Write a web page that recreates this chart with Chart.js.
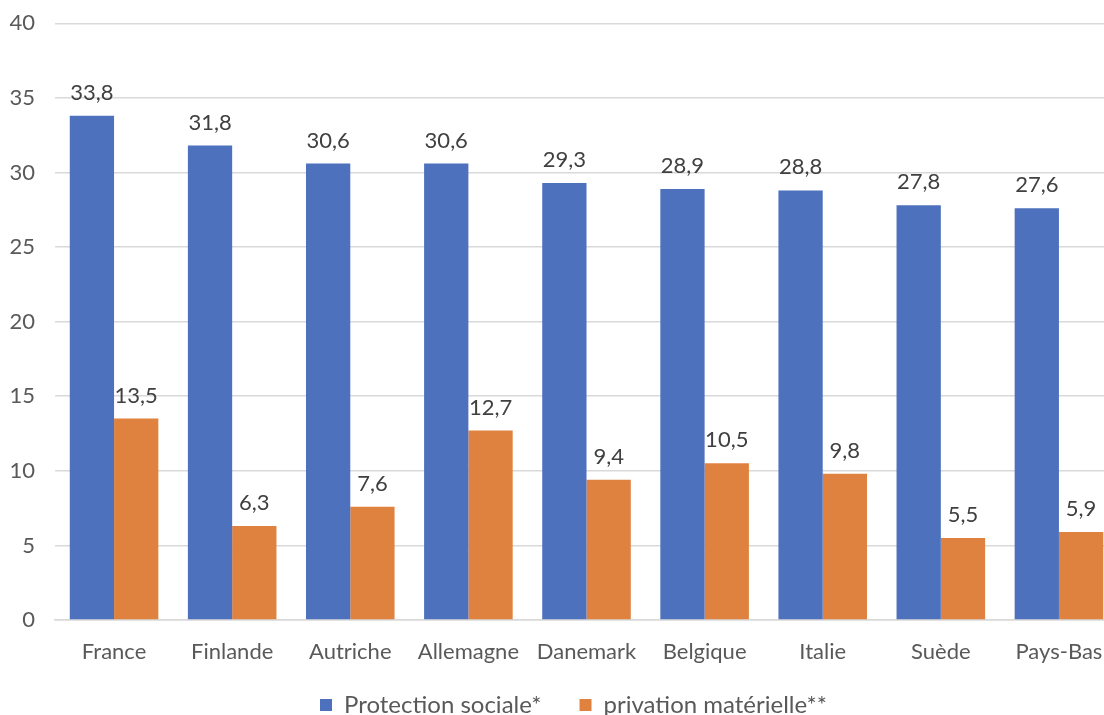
<!DOCTYPE html>
<html>
<head>
<meta charset="utf-8">
<script src="https://cdn.jsdelivr.net/npm/chart.js@4/dist/chart.umd.min.js"></script>
<style>
  html, body { margin: 0; padding: 0; background: #fff; overflow: hidden; }
  #wrap { position: relative; width: 1146px; height: 727px; }
</style>
</head>
<body>
<div id="wrap"><canvas id="c"></canvas></div>
<script>
const categories = ['France', 'Finlande', 'Autriche', 'Allemagne', 'Danemark', 'Belgique', 'Italie', 'Suède', 'Pays-Bas'];
const protectionSociale = [33.8, 31.8, 30.6, 30.6, 29.3, 28.9, 28.8, 27.8, 27.6];
const privationMaterielle = [13.5, 6.3, 7.6, 12.7, 9.4, 10.5, 9.8, 5.5, 5.9];
const seriesNames = ['Protection sociale*', 'privation matérielle**'];
const yTicks = [0, 5, 10, 15, 20, 25, 30, 35, 40];

const FONT = 'Lato, "Open Sans", sans-serif';

const dataLabels = {
  id: 'dataLabels',
  afterDatasetsDraw(chart) {
    const ctx = chart.ctx;
    ctx.save();
    ctx.font = '22px ' + FONT;
    ctx.fillStyle = '#404040';
    ctx.textAlign = 'center';
    ctx.textBaseline = 'alphabetic';
    chart.data.datasets.forEach((ds, i) => {
      const meta = chart.getDatasetMeta(i);
      meta.data.forEach((el, j) => {
        const txt = ds.data[j].toFixed(1).replace('.', ',');
        ctx.fillText(txt, el.x, el.y - 16);
      });
    });
    ctx.restore();
  }
};

function noClip(axis) { axis._computeLabelArea = function () { return undefined; }; }

new Chart(document.getElementById('c'), {
  type: 'bar',
  data: {
    labels: categories,
    datasets: [
      { label: seriesNames[0], data: protectionSociale, backgroundColor: '#4E71BE' },
      { label: seriesNames[1], data: privationMaterielle, backgroundColor: '#E0823F' }
    ]
  },
  options: {
    responsive: true,
    maintainAspectRatio: false,
    animation: false,
    devicePixelRatio: 1,
    layout: { padding: { left: 29, right: 28, top: 0, bottom: 0 } },
    datasets: { bar: { categoryPercentage: 0.75, barPercentage: 1.0 } },
    scales: {
      x: {
        afterFit(axis) { axis.height = 35; noClip(axis); },
        grid: { display: false, drawTicks: false },
        border: { display: true, color: '#D9D9D9', width: 1.5 },
        ticks: { color: '#595959', font: { family: FONT, size: 22 }, padding: 19, maxRotation: 0, autoSkip: false }
      },
      y: {
        min: 0, max: 40,
        afterFit(axis) { axis.width = 26; noClip(axis); },
        afterBuildTicks(axis) { axis.ticks = yTicks.map(v => ({ value: v })); },
        grid: { color: '#D9D9D9', lineWidth: 1.5, drawTicks: false },
        border: { display: false },
        ticks: { color: '#595959', font: { family: FONT, size: 22, lineHeight: 0.3 }, padding: 20 }
      }
    },
    plugins: {
      legend: {
        position: 'bottom',
        labels: { boxWidth: 12, boxHeight: 12, padding: 38, color: '#595959', font: { family: FONT, size: 24 } }
      },
      tooltip: { enabled: false }
    }
  },
  plugins: [dataLabels]
});
</script>
</body>
</html>
